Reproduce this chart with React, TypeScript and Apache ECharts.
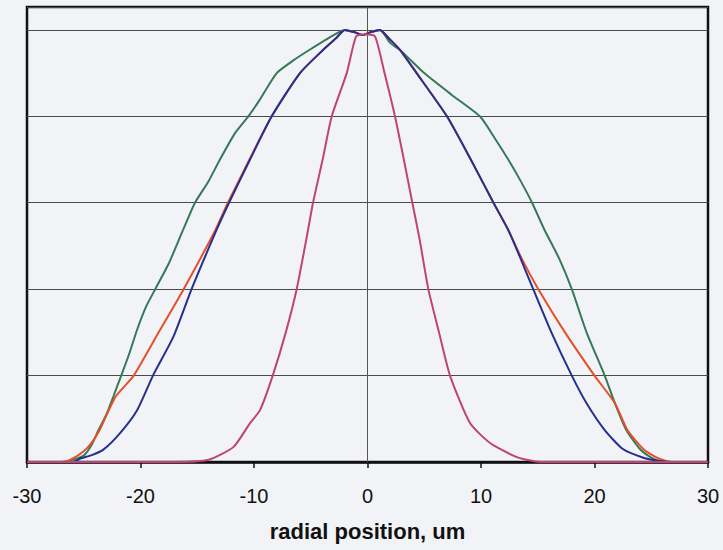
import React, { useEffect, useRef } from "react";
import * as echarts from "echarts";

const xTicks = [-30, -20, -10, 0, 10, 20, 30];
const axisName = "radial position, um";

const greenX = [-30, -27, -26, -25, -24.3, -23.7, -23, -22.4, -21.7, -21, -20.3, -19.5, -18.7, -17.5, -16.25, -15.2, -14, -13, -11.7, -10.5, -9.5, -8, -6.5, -5.1, -3.5, -2, -1.2, -0.4, 0.3, 1.1, 2, 3, 5, 7.4, 9.9, 11.2, 12.4, 13.5, 14.5, 15.6, 16.9, 18, 19.3, 20.9, 21.8, 22.8, 24, 25, 25.8, 27, 30];
const greenY = [0, 0, 0.005, 0.015, 0.04, 0.074, 0.11, 0.151, 0.2, 0.25, 0.306, 0.36, 0.4, 0.46, 0.537, 0.6, 0.65, 0.7, 0.76, 0.8, 0.838, 0.9, 0.93, 0.954, 0.98, 1.0, 0.995, 0.988, 0.995, 1.0, 0.97, 0.95, 0.9, 0.85, 0.8, 0.75, 0.7, 0.65, 0.6, 0.537, 0.47, 0.4, 0.3, 0.2, 0.136, 0.074, 0.03, 0.01, 0.002, 0, 0];

const redX = [-30, -27, -26.2, -25, -24.3, -23.6, -22.2, -20.6, -18.4, -16.2, -13.4, -12.3, -10.4, -8.44, -5.95, -3.9, -2.8, -2, -1.2, -0.4, 0.3, 1.1, 1.9, 2.86, 4.33, 7, 9.1, 11.1, 12.4, 13.6, 15.05, 17.4, 20, 21.8, 22.9, 24.3, 25.5, 26.4, 27, 30];
const redY = [0, 0, 0.005, 0.025, 0.045, 0.074, 0.151, 0.2, 0.3, 0.4, 0.537, 0.6, 0.7, 0.8, 0.9, 0.954, 0.98, 1.0, 0.995, 0.988, 0.995, 1.0, 0.98, 0.954, 0.9, 0.8, 0.7, 0.6, 0.537, 0.47, 0.4, 0.3, 0.2, 0.136, 0.074, 0.03, 0.01, 0.002, 0, 0];

const blueX = [-30, -26, -25.3, -24.3, -23.3, -21.8, -20.3, -18.9, -17.1, -15.5, -13.3, -12.2, -10.35, -8.44, -5.95, -3.9, -2.8, -2, -1.2, -0.4, 0.3, 1.1, 1.9, 2.86, 4.33, 7, 9.1, 11.1, 12.4, 13.5, 14.6, 16.2, 18, 19.3, 20.9, 22.5, 24.3, 25.6, 26.9, 30];
const blueY = [0, 0, 0.008, 0.016, 0.028, 0.067, 0.12, 0.2, 0.29, 0.4, 0.537, 0.6, 0.7, 0.8, 0.9, 0.954, 0.98, 1.0, 0.995, 0.988, 0.995, 1.0, 0.98, 0.954, 0.9, 0.8, 0.7, 0.6, 0.537, 0.47, 0.4, 0.3, 0.2, 0.136, 0.074, 0.03, 0.01, 0.003, 0, 0];

const magentaX = [-30, -17, -14, -11.8, -10.35, -9.47, -8.35, -7.2, -6.24, -5.4, -4.8, -3.95, -3.15, -1.83, -1.0, -0.2, 0.66, 1.5, 2.42, 3.2, 3.95, 4.6, 5.36, 6.3, 7.27, 9.03, 10.8, 13.1, 15.2, 30];
const magentaY = [0, 0, 0.005, 0.035, 0.09, 0.12, 0.2, 0.3, 0.4, 0.514, 0.6, 0.7, 0.8, 0.9, 0.985, 0.99, 0.985, 0.9, 0.8, 0.7, 0.6, 0.514, 0.4, 0.3, 0.2, 0.09, 0.044, 0.012, 0, 0];

const seriesDefs = [
  { name: "green", xs: greenX, ys: greenY, color: "#347a58" },
  { name: "red", xs: redX, ys: redY, color: "#e4502a" },
  { name: "blue", xs: blueX, ys: blueY, color: "#25308f" },
  { name: "magenta", xs: magentaX, ys: magentaY, color: "#bd4474" },
];

export default function App() {
  const ref = useRef<HTMLDivElement>(null);
  useEffect(() => {
    document.body.style.margin = "0";
    document.body.style.background = "#f2f3f7";
    const chart = echarts.init(ref.current!, null, { renderer: "svg" });
    const series: any[] = seriesDefs.map((s, i) => ({
      name: s.name,
      type: "line",
      data: s.xs.map((x, j) => [x, s.ys[j]]),
      showSymbol: false,
      smooth: 0.2,
      lineStyle: { color: s.color, width: 2 },
      z: 3 + i,
      ...(i === 0
        ? {
            markLine: {
              silent: true,
              symbol: ["none", "none"],
              label: { show: false },
              lineStyle: { color: "#555", width: 1, type: "solid" },
              data: [{ xAxis: 0 }],
              z: 1,
            },
          }
        : {}),
    }));
    chart.setOption({
      animation: false,
      backgroundColor: "#f2f3f7",
      grid: {
        left: 27,
        right: 15,
        top: 7,
        bottom: 88,
        show: true,
        borderColor: "#111",
        borderWidth: 2.5,
        backgroundColor: "transparent",
      },
      xAxis: {
        type: "value",
        min: -30,
        max: 30,
        interval: 10,
        name: axisName,
        nameLocation: "middle",
        nameGap: 58,
        nameTextStyle: {
          fontFamily: "Liberation Sans, Arial, sans-serif",
          fontWeight: "bold",
          fontSize: 22,
          color: "#111",
        },
        axisLine: { show: true, lineStyle: { color: "#111", width: 2.5 } },
        axisTick: { show: true, length: 6, lineStyle: { color: "#111", width: 1.5 } },
        axisLabel: {
          margin: 24,
          fontSize: 20,
          color: "#111",
          fontFamily: "Liberation Sans, Arial, sans-serif",
          formatter: (v: number) => (xTicks.includes(v) ? String(v) : ""),
        },
        splitLine: { show: false },
      },
      yAxis: {
        type: "value",
        min: 0,
        max: 1.053,
        interval: 0.2,
        axisLine: { show: false },
        axisTick: { show: false },
        axisLabel: { show: false },
        splitLine: { show: true, lineStyle: { color: "#4a4a4a", width: 1 } },
      },
      series,
    });
    return () => chart.dispose();
  }, []);
  return <div ref={ref} style={{ width: 723, height: 550 }} />;
}
